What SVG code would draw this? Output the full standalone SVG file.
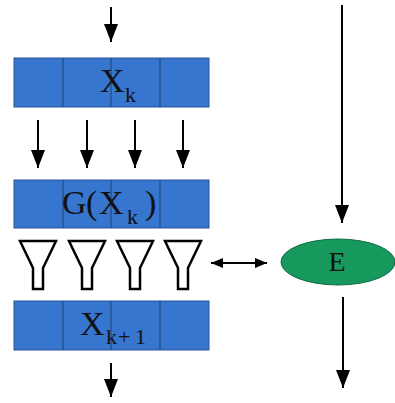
<svg xmlns="http://www.w3.org/2000/svg" width="395" height="403" viewBox="0 0 395 403">
  <defs>
    <marker id="head" viewBox="0 0 18 14" refX="18" refY="7" markerWidth="9" markerHeight="7" markerUnits="strokeWidth" orient="auto">
      <path d="M0,0 L18,7 L0,14 z" fill="#000"/>
    </marker>
    <marker id="headS" viewBox="0 0 12 10" refX="12" refY="5" markerWidth="6" markerHeight="5" markerUnits="strokeWidth" orient="auto-start-reverse">
      <path d="M0,0 L12,5 L0,10 z" fill="#000"/>
    </marker>
    <g id="funnel">
      <path d="M-18,0 L18,0 L5,27 L5,48 L-5,48 L-5,27 Z" fill="#fff" stroke="#000" stroke-width="2.5" stroke-linejoin="miter"/>
    </g>
  </defs>
  <style>
    .bar { fill: #3676cf; stroke: #2a5596; stroke-width: 1; }
    .div { stroke: #1e3f70; stroke-width: 1; }
    .lbl { font-family: "Liberation Serif", "DejaVu Serif", serif; fill: #111; }
    .sub { font-size: 22px; }
    .arrow { stroke: #000; stroke-width: 2; fill: none; marker-end: url(#head); }
  </style>
  <rect width="395" height="403" fill="#fff"/>

  <g id="connectors">
    <line class="arrow" x1="111" y1="7" x2="111" y2="42"/>
    <line class="arrow" x1="38" y1="120" x2="38" y2="168"/>
    <line class="arrow" x1="87" y1="120" x2="87" y2="168"/>
    <line class="arrow" x1="135" y1="120" x2="135" y2="168"/>
    <line class="arrow" x1="183" y1="120" x2="183" y2="168"/>
    <line class="arrow" x1="111" y1="363" x2="111" y2="397"/>
    <line class="arrow" x1="342" y1="5" x2="342" y2="223"/>
    <line class="arrow" x1="343" y1="297" x2="343" y2="388"/>
    <line x1="211" y1="263" x2="267" y2="263" stroke="#000" stroke-width="2" marker-start="url(#headS)" marker-end="url(#headS)"/>
  </g>

  <g id="xk">
    <rect class="bar" x="14" y="58" width="195" height="49"/>
    <line class="div" x1="63" y1="58" x2="63" y2="107"/>
    <line class="div" x1="111" y1="58" x2="111" y2="107"/>
    <line class="div" x1="160" y1="58" x2="160" y2="107"/>
    <text class="lbl" x="100" y="92" font-size="34">X<tspan class="sub" x="125" y="102">k</tspan></text>
  </g>

  <g id="gxk">
    <rect class="bar" x="14" y="180" width="195" height="48"/>
    <line class="div" x1="63" y1="180" x2="63" y2="228"/>
    <line class="div" x1="111" y1="180" x2="111" y2="228"/>
    <line class="div" x1="160" y1="180" x2="160" y2="228"/>
    <text class="lbl" x="62" y="214" font-size="34">G<tspan x="86">(</tspan><tspan x="99">X</tspan><tspan class="sub" x="127" y="224">k</tspan><tspan x="145" y="214">)</tspan></text>
  </g>

  <g id="funnels">
    <use href="#funnel" x="38" y="241"/>
    <use href="#funnel" x="87" y="241"/>
    <use href="#funnel" x="135" y="241"/>
    <use href="#funnel" x="183" y="241"/>
  </g>

  <g id="xk1">
    <rect class="bar" x="14" y="301" width="195" height="49"/>
    <line class="div" x1="63" y1="301" x2="63" y2="350"/>
    <line class="div" x1="111" y1="301" x2="111" y2="350"/>
    <line class="div" x1="160" y1="301" x2="160" y2="350"/>
    <text class="lbl" x="80" y="335" font-size="34">X<tspan class="sub" x="106" y="344">k</tspan><tspan class="sub" x="118">+</tspan><tspan class="sub" x="135">1</tspan></text>
  </g>

  <g id="e">
    <ellipse cx="338" cy="262" rx="57" ry="23" fill="#17985c" stroke="#0f6b40" stroke-width="1"/>
    <text class="lbl" x="337" y="271" font-size="28" text-anchor="middle">E</text>
  </g>
</svg>
